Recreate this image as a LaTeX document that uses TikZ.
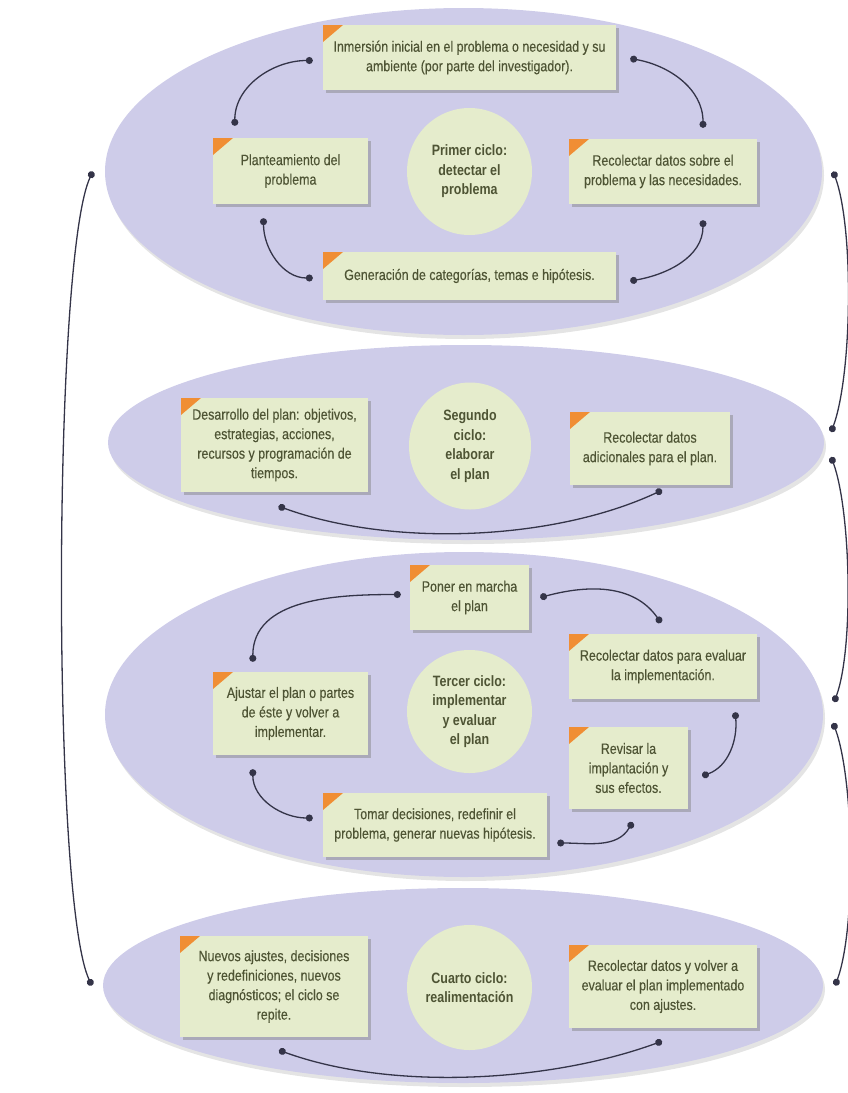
\documentclass[tikz,border=0pt]{standalone}
\usepackage{fontspec}
\setmainfont{Liberation Sans}[FakeStretch=0.83,UprightFeatures={FakeBold=0.35}]
\usetikzlibrary{arrows.meta,shapes.geometric,shadows}
\definecolor{lila}{RGB}{206,204,233}
\definecolor{hoja}{RGB}{229,236,204}
\definecolor{tinta}{RGB}{78,84,52}
\definecolor{esquina}{RGB}{240,142,52}
\definecolor{cable}{RGB}{52,52,72}
\tikzset{ciclo/.style={ellipse,fill=lila,inner sep=0pt,
           drop shadow={shadow xshift=2pt,shadow yshift=-4pt,fill=black!30,opacity=0.35}},
         caja/.style 2 args={rectangle,fill=hoja,text=tinta,align=center,inner sep=0pt,
           minimum width=#1,minimum height=#2,
           drop shadow={shadow xshift=2.5pt,shadow yshift=-2.5pt,fill=black!50,opacity=0.45},
           path picture={\fill[esquina] (path picture bounding box.north west)
             -- ++(20pt,0) -- ++(-20pt,-17pt) -- cycle;}},
         nucleo/.style 2 args={ellipse,fill=hoja,text=tinta,align=center,inner sep=0pt,
           font=\fontsize{15}{19.5}\selectfont\bfseries,minimum width=#1,minimum height=#2},
         enlace/.style={draw=cable,line width=1.3pt,{Circle[length=7pt]}-{Circle[length=7pt]}}}

\begin{document}
\begin{tikzpicture}[x=1pt,y=1pt,font=\fontsize{15}{19.5}\selectfont]
  \useasboundingbox (0,0) rectangle (848,-1093);
  % fondos de los cuatro ciclos
  \node[ciclo,minimum width=717pt,minimum height=327pt] (e1) at (463.5,-171.5) {};
  \node[ciclo,minimum width=716pt,minimum height=195pt] (e2) at (466,-442.5) {};
  \node[ciclo,minimum width=718pt,minimum height=325pt] (e3) at (464,-714.5) {};
  \node[ciclo,minimum width=720pt,minimum height=195pt] (e4) at (463,-985.5) {};

  % primer ciclo
  \node[caja={293pt}{65pt}] (inmersion) at (469.5,-57.5)
    {Inmersión inicial en el problema o necesidad y su\\ambiente (por parte del investigador).};
  \node[caja={155pt}{66pt}] (planteamiento) at (290.5,-171) {Planteamiento del\\problema};
  \node[nucleo={125pt}{127pt}] (primer) at (469.5,-171.5) {Primer ciclo:\\detectar el\\problema};
  \node[caja={188pt}{65pt}] (datos1) at (663,-171.5) {Recolectar datos sobre el\\problema y las necesidades.};
  \node[caja={293pt}{48pt}] (categorias) at (469.5,-276) {Generación de categorías, temas e hipótesis.};
  \draw[enlace] ([xshift=-10pt,yshift=-3pt]inmersion.west) to[out=180,in=90] ([xshift=22pt,yshift=12pt]planteamiento.north west);
  \draw[enlace] ([xshift=14pt,yshift=-1pt]inmersion.east) to[out=-10,in=90] ([xshift=40pt,yshift=11pt]datos1.north);
  \draw[enlace] ([xshift=-27pt,yshift=-14pt]planteamiento.south) to[out=-90,in=180] ([xshift=-10pt,yshift=-2pt]categorias.west);
  \draw[enlace] ([xshift=40pt,yshift=-16pt]datos1.south) to[out=-90,in=10] ([xshift=14pt,yshift=-5pt]categorias.east);

  % segundo ciclo
  \node[caja={187pt}{94pt}] (desarrollo) at (274.5,-445)
    {Desarrollo del plan: objetivos,\\estrategias, acciones,\\recursos y programación de\\tiempos.};
  \node[nucleo={122pt}{127pt}] (segundo) at (470,-446) {Segundo\\ciclo:\\elaborar\\el plan};
  \node[caja={160pt}{73pt}] (datos2) at (650,-448.5) {Recolectar datos\\adicionales para el plan.};
  \draw[enlace] ([xshift=4pt,yshift=-14pt]desarrollo.south) to[out=-20,in=-155,looseness=0.8] ([xshift=12pt,yshift=-5pt]datos2.south);

  % tercer ciclo
  \node[caja={119pt}{65pt}] (marcha) at (469.5,-597.5) {Poner en marcha\\el plan};
  \node[caja={188pt}{65pt}] (datos3) at (663,-666.5) {Recolectar datos para evaluar\\la implementación.};
  \node[caja={155pt}{83pt}] (ajustar) at (290.5,-713.5) {Ajustar el plan o partes\\de éste y volver a\\implementar.};
  \node[nucleo={125pt}{123pt}] (tercer) at (469.5,-711.5) {Tercer ciclo:\\implementar\\y evaluar\\el plan};
  \node[caja={119pt}{82pt}] (revisar) at (628.5,-768) {Revisar la\\implantación y\\sus efectos.};
  \node[caja={224pt}{64pt}] (decisiones) at (435,-825) {Tomar decisiones, redefinir el\\problema, generar nuevas hipótesis.};
  \draw[enlace] ([xshift=-9pt,yshift=3pt]marcha.west) to[out=180,in=90] ([xshift=40pt,yshift=10pt]ajustar.north west);
  \draw[enlace] ([xshift=11pt]marcha.east) to[out=15,in=125] ([xshift=-2pt,yshift=11pt]datos3.north);
  \draw[enlace] ([xshift=-22pt,yshift=-13pt]datos3.south east) to[out=-85,in=20] ([xshift=14pt,yshift=-8pt]revisar.east);
  \draw[enlace] ([xshift=4pt,yshift=-13pt]revisar.south) to[out=-120,in=0] ([xshift=10pt,yshift=-18pt]decisiones.east);
  \draw[enlace] ([xshift=40pt,yshift=-14pt]ajustar.south west) to[out=-90,in=180] ([xshift=-10pt,yshift=7pt]decisiones.west);

  % cuarto ciclo
  \node[caja={188pt}{101pt}] (nuevos) at (274,-986.5)
    {Nuevos ajustes, decisiones\\y redefiniciones, nuevos\\diagnósticos; el ciclo se\\repite.};
  \node[nucleo={125pt}{125pt}] (cuarto) at (469.5,-987.5) {Cuarto ciclo:\\realimentación};
  \node[caja={188pt}{83pt}] (datos4) at (663,-986.5) {Recolectar datos y volver a\\evaluar el plan implementado\\con ajustes.};
  \draw[enlace] ([xshift=5pt,yshift=-13pt]nuevos.south) to[out=-20,in=-160,looseness=0.8] ([xshift=-1pt,yshift=-13pt]datos4.south);

  % enlaces entre ciclos
  \draw[enlace] ([xshift=-12pt]e1.west) to[out=-115,in=115,looseness=0.3] ([xshift=-11pt]e4.west);
  \draw[enlace] ([xshift=11pt]e1.east) to[out=-70,in=70,looseness=0.6] ([xshift=7pt,yshift=10.5pt]e2.east);
  \draw[enlace] ([xshift=7pt,yshift=-14.5pt]e2.east) to[out=-70,in=70,looseness=0.6] ([xshift=11pt,yshift=12.5pt]e3.east);
  \draw[enlace] ([xshift=10pt,yshift=-8.5pt]e3.east) to[out=-70,in=70,looseness=0.6] ([xshift=12pt]e4.east);
\end{tikzpicture}
\end{document}
